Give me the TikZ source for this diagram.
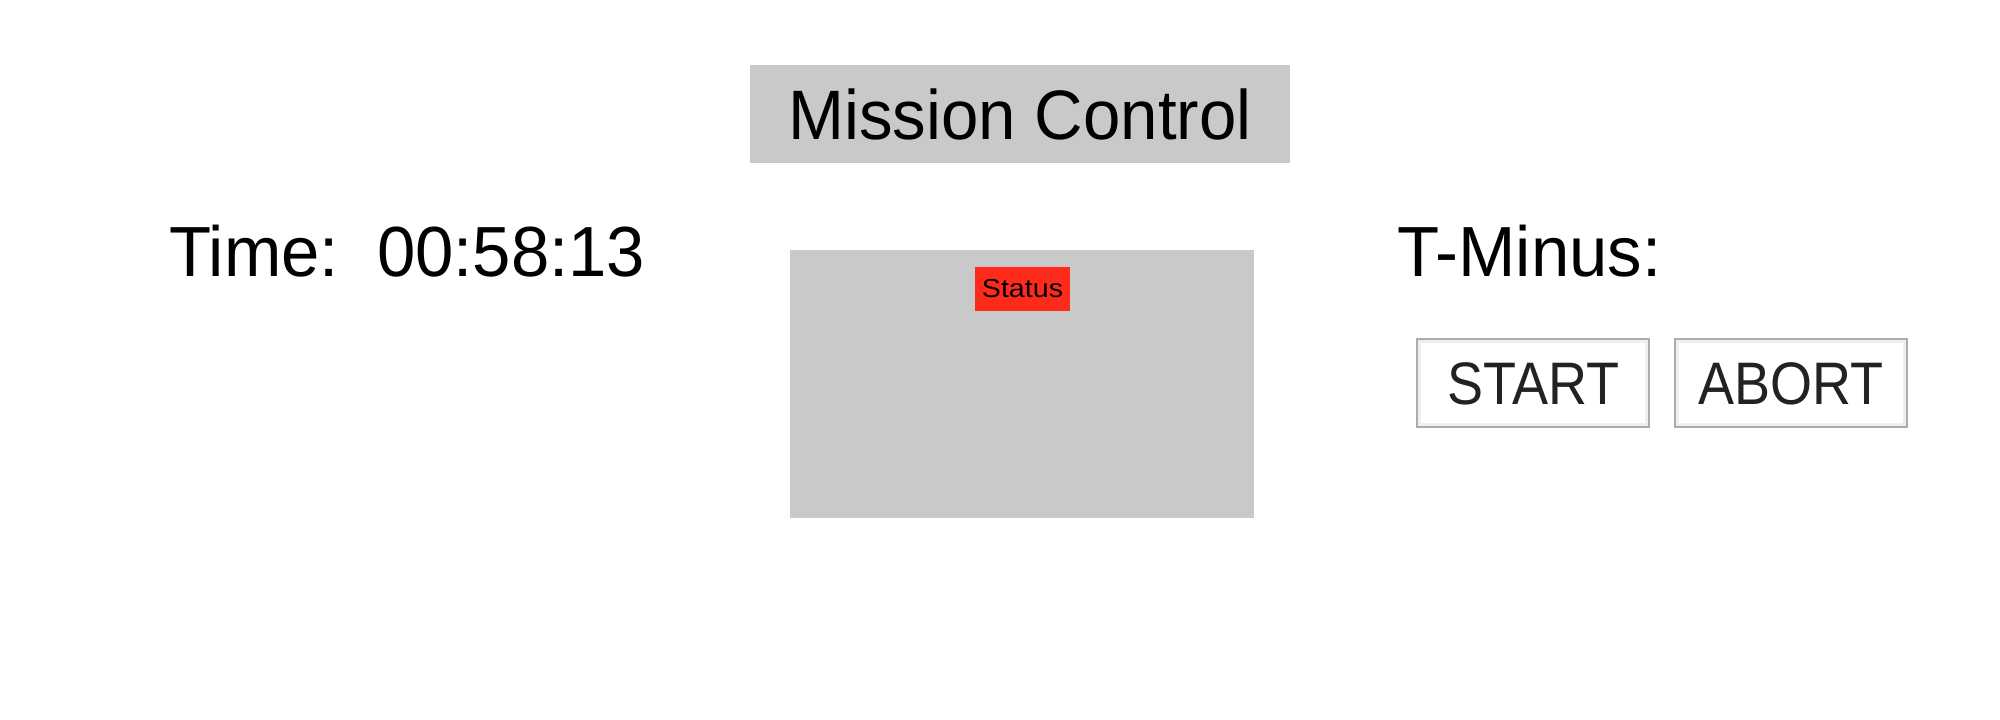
\documentclass[tikz,border=0pt]{standalone}
\usepackage{fontspec}
\usetikzlibrary{positioning}
\newfontfamily\headfont[FakeStretch=0.96]{Liberation Sans}
\newfontfamily\labelfont[FakeStretch=0.97]{Liberation Sans}
\newfontfamily\buttonfont[FakeStretch=0.9]{Liberation Sans}
\newfontfamily\tagfont[FakeStretch=1.1]{Liberation Sans}
\definecolor{panelgrey}{HTML}{C9C9C9}
\definecolor{statusred}{HTML}{FF2A1A}
\definecolor{btnedge}{HTML}{ACACAC}
\definecolor{btnband}{HTML}{EFEFEF}
\definecolor{btntext}{HTML}{222222}

\begin{document}
\begin{tikzpicture}[x=1pt, y=-1pt, panel/.style = {fill=panelgrey, inner sep=0pt}, label/.style = {anchor=base west, inner sep=0pt, font=\labelfont\fontsize{71}{85}\selectfont}, button/.style = {draw=btnedge, line width=2pt, fill=btnband, minimum width=231.5pt, minimum height=87.4pt, inner sep=0pt, text height=43pt, text depth=0pt, text=btntext, font=\buttonfont\fontsize{60}{72}\selectfont, path picture={\fill[white] ([shift={(4pt,-4pt)}]path picture bounding box.north west) rectangle ([shift={(-4pt,4pt)}]path picture bounding box.south east);}}]

    % frame
    \useasboundingbox (0,0) rectangle (2000,720);

    % title
    \node[panel, minimum width=540pt, minimum height=98pt, text height=50pt, text depth=0pt, font=\headfont\fontsize{70}{84}\selectfont] (title) at (1020,114) {Mission Control};

    % clock and countdown
    \node[label] (time) at (169,276) {Time:\ \ 00:58:13};
    \node[label] (tminus) at (1397,276.7) {T-Minus:};

    % status panel
    \node[panel, minimum width=464pt, minimum height=268pt] (screen) at (1022,384) {};
    \node[fill=statusred, minimum width=95pt, minimum height=44pt, inner sep=0pt, text height=18.6pt, text depth=0pt, font=\tagfont\fontsize{26}{31}\selectfont] (status) at (1022.5,288.5) {Status};

    % buttons
    \node[button] (start) at (1533,383) {START};
    \node[button, right=24.5pt of start] (abort) {ABORT};

    \end{tikzpicture}
\end{document}
